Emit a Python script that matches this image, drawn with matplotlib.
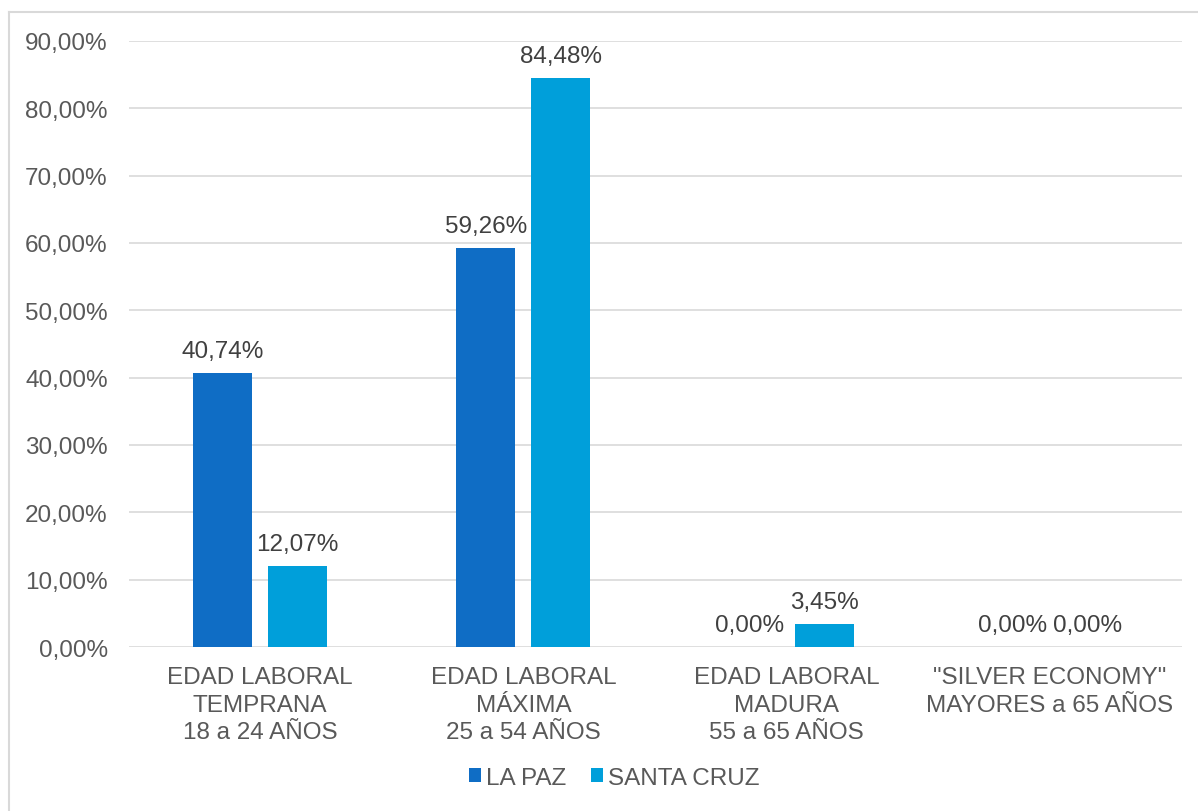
import matplotlib
matplotlib.use("Agg")
import matplotlib.pyplot as plt
from matplotlib.lines import Line2D
import numpy as np

categories = ["EDAD LABORAL\nTEMPRANA\n18 a 24 AÑOS",
              "EDAD LABORAL\nMÁXIMA\n25 a 54 AÑOS",
              "EDAD LABORAL\nMADURA\n55 a 65 AÑOS",
              "\"SILVER ECONOMY\"\nMAYORES a 65 AÑOS"]
series_names = ["LA PAZ", "SANTA CRUZ"]
la_paz = [40.74, 59.26, 0.00, 0.00]
santa_cruz = [12.07, 84.48, 3.45, 0.00]
yticks = [0, 10, 20, 30, 40, 50, 60, 70, 80, 90]

colors = ["#0F6DC5", "#009FDA"]
text_color = "#595959"
fs = 17.5

plt.rcParams['font.family'] = ['Liberation Sans', 'DejaVu Sans']

W, H = 1198, 812
fig = plt.figure(figsize=(W/100, H/100), dpi=100)
ax = fig.add_axes([128.5/W, 1 - 648/H, (1181.5-128.5)/W, (648-42)/H])

# figure border (top and left visible)
fig.lines.append(Line2D([8.5/W, 8.5/W], [0, 1 - 12.5/H], transform=fig.transFigure,
                        color="#D9D9D9", linewidth=1.5))
fig.lines.append(Line2D([8.5/W, 1], [1 - 12.5/H, 1 - 12.5/H], transform=fig.transFigure,
                        color="#D9D9D9", linewidth=1.5))

x = np.arange(len(categories))
w = 0.224
off = 0.1426
for vals, c, name, o in [(la_paz, colors[0], series_names[0], -off),
                         (santa_cruz, colors[1], series_names[1], off)]:
    bars = ax.bar(x + o, vals, width=w, color=c, label=name, zorder=3)
    for b, v in zip(bars, vals):
        ax.annotate(f"{v:.2f}%".replace(".", ","), (b.get_x() + b.get_width()/2, v),
                    xytext=(0, 8), textcoords="offset points", ha="center", va="bottom",
                    fontsize=fs, color="#404040")

ax.set_xlim(-0.5, 3.5)
ax.set_ylim(0, 90)
ax.set_yticks(yticks)
ax.set_yticklabels([f"{t:.2f}%".replace(".", ",") for t in yticks])
ax.set_xticks(x)
ax.set_xticklabels(categories, linespacing=1.3)
ax.tick_params(axis="both", length=0, labelsize=fs, labelcolor=text_color)
ax.tick_params(axis="y", pad=15)
ax.tick_params(axis="x", pad=14)
ax.grid(axis="y", color="#D9D9D9", linewidth=1.2, zorder=0)
for s in ax.spines.values():
    s.set_visible(False)

ax.legend(loc="center", bbox_to_anchor=(614/W, 1 - 779/H), bbox_transform=fig.transFigure,
          ncol=2, frameon=False, fontsize=fs, labelcolor=text_color,
          handlelength=0.5, handleheight=0.5, handletextpad=0.2, columnspacing=1.0)

fig.savefig("out.png", dpi=100)
